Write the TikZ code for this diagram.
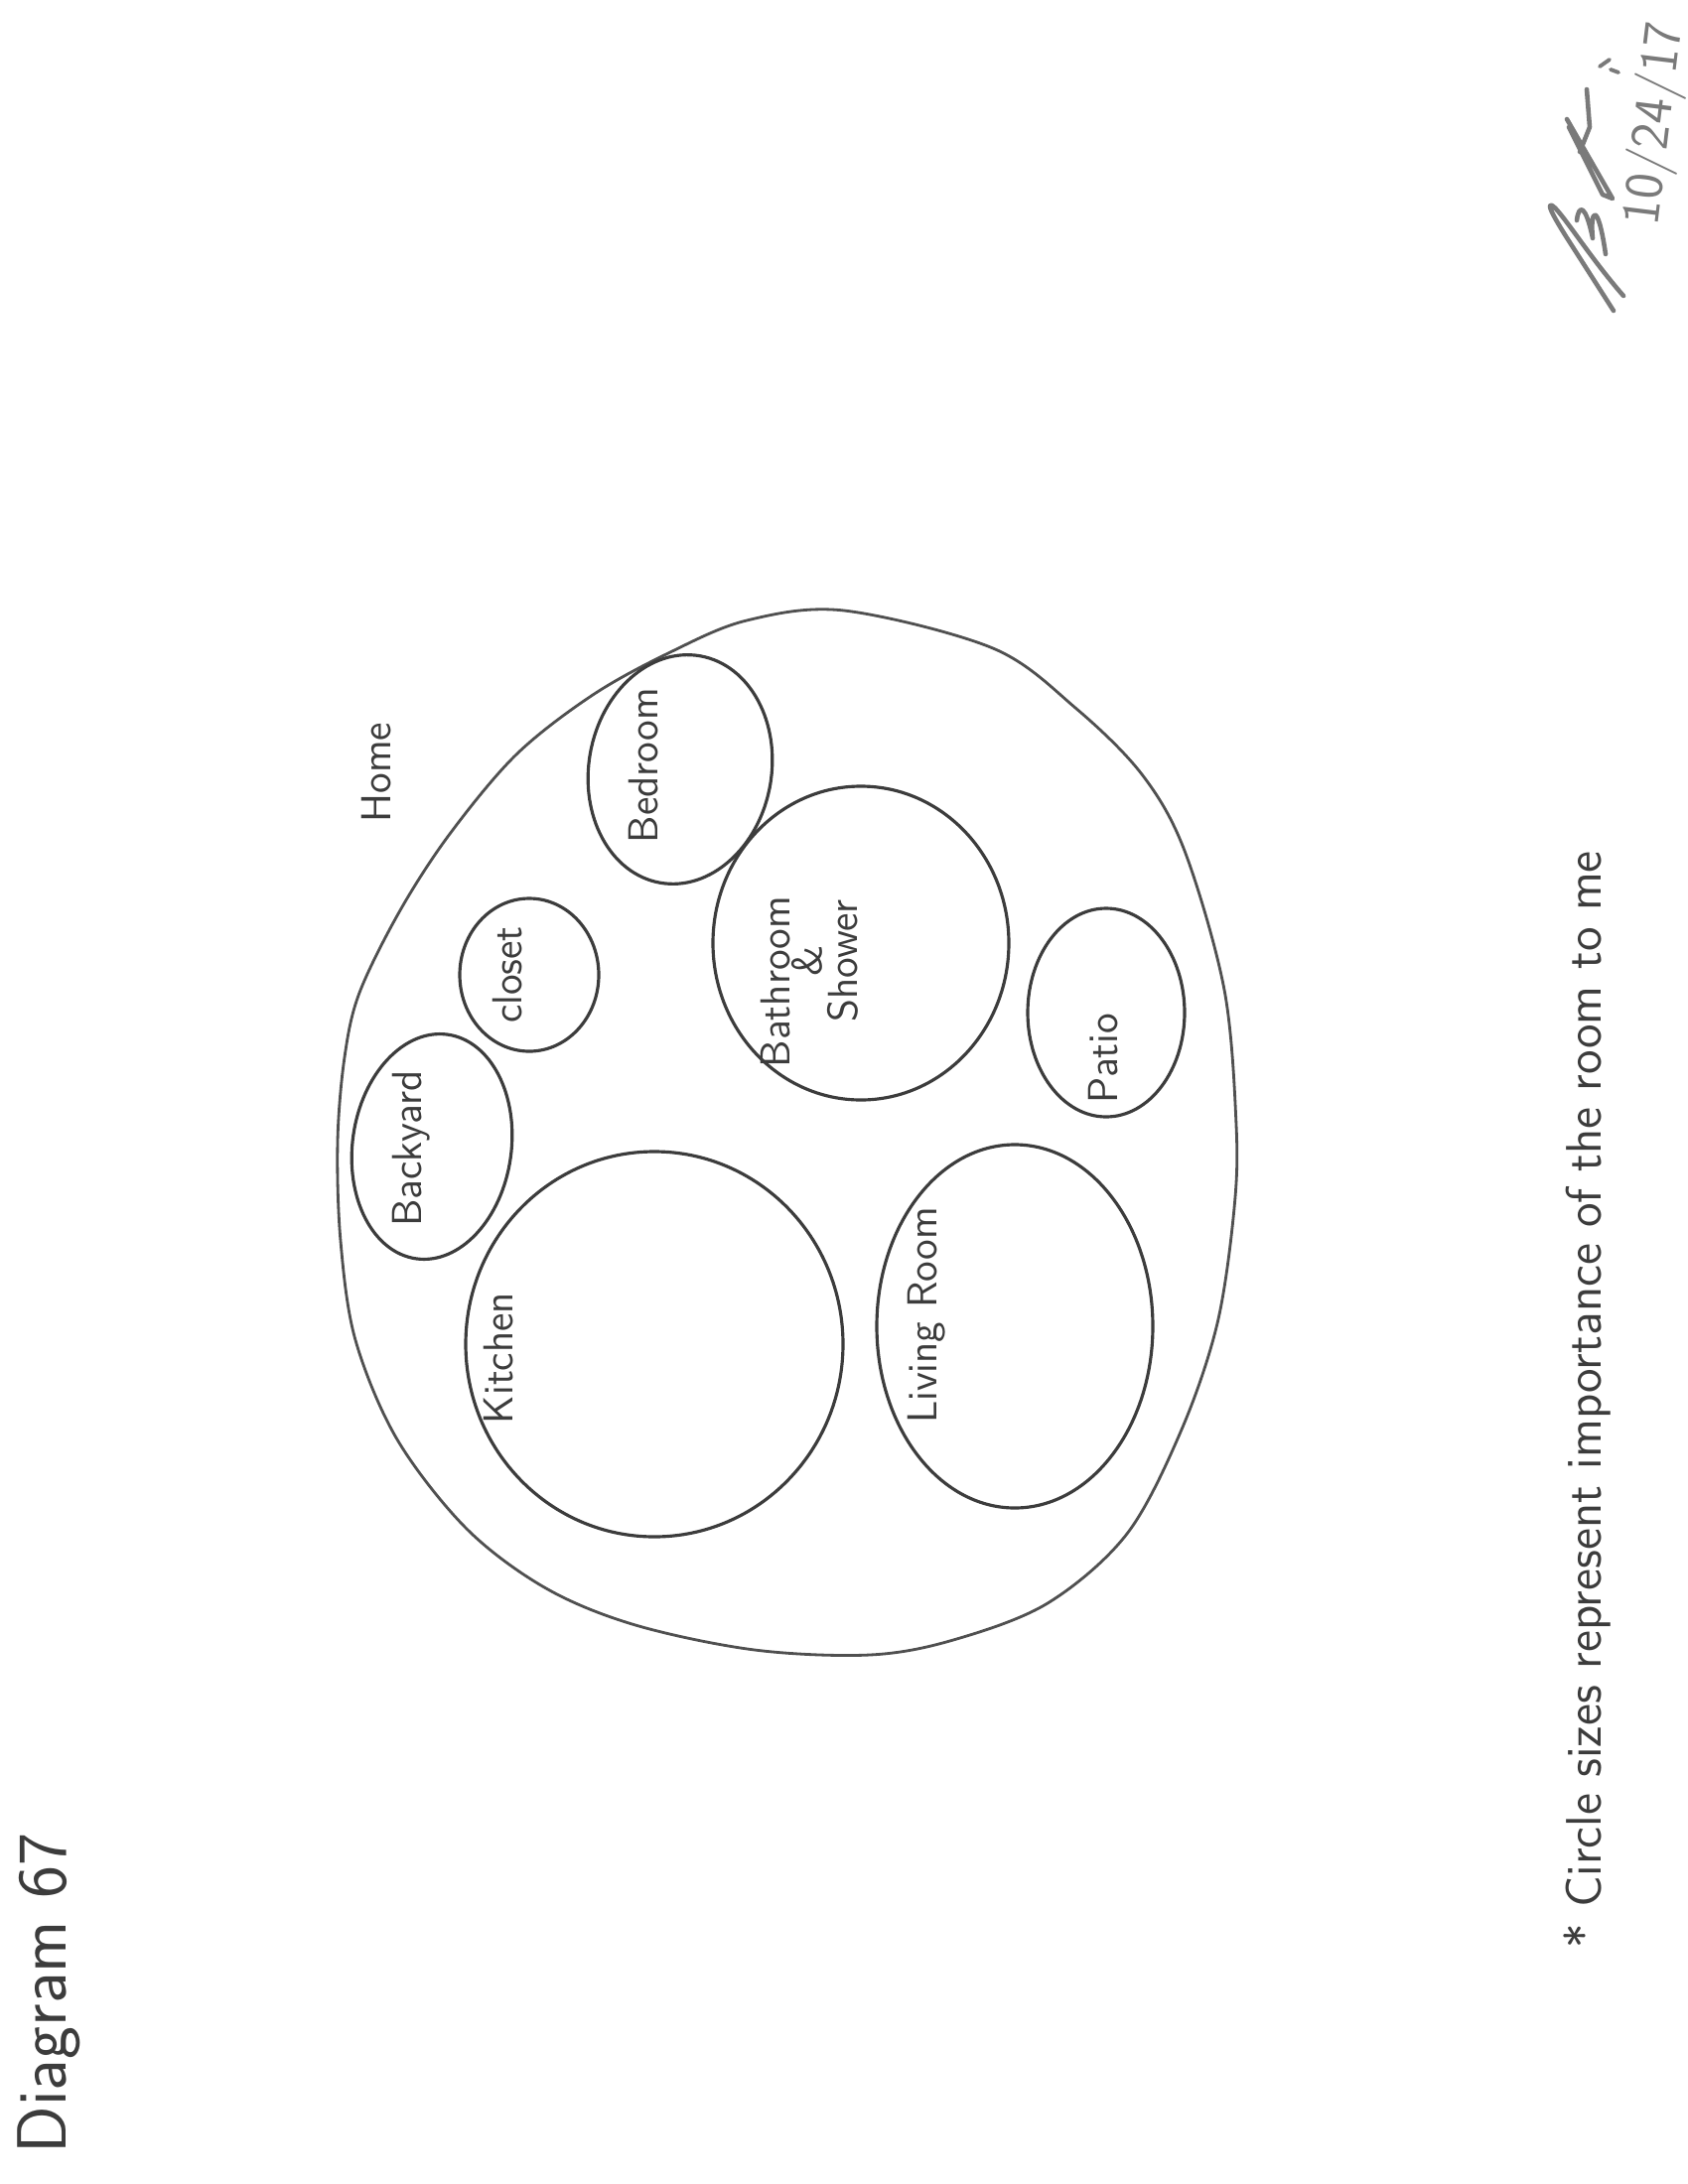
\documentclass[tikz,border=0pt]{standalone}
\definecolor{ink}{HTML}{3C3C3C}
\definecolor{pencil}{HTML}{505050}
\definecolor{sig}{HTML}{7A7A7A}
\begin{document}
\begin{tikzpicture}[x=0.1mm,y=-0.1mm,
  room/.style={draw=ink, line width=0.9pt},
  lbl/.style={text=ink, font=\sffamily\fontsize{12}{14}\selectfont, rotate=90, inner sep=0pt, align=center},
  sigline/.style={draw=sig, line width=1.3pt, line cap=round, line join=round}]
\useasboundingbox (0,0) rectangle (1700,2200);
% outer home blob
\draw[draw=pencil, line width=0.8pt] plot[smooth cycle, tension=0.55] coordinates {
 (340,1150) (347,1065) (362,1000) (403,917) (453,840) (520,760) (597,700)
 (675,657) (752,625) (850,615) (1000,653) (1083,713) (1150,780) (1193,857)
 (1233,997) (1245,1133) (1243,1217) (1226,1333) (1190,1440) (1135,1545)
 (1055,1615) (960,1652) (876,1667) (760,1662) (640,1637) (550,1600)
 (470,1540) (400,1450) (358,1350) (343,1250)};
% rooms
\draw[room] (659,1354) ellipse (190 and 194);
\draw[room] (1022,1336) ellipse (139 and 183);
\draw[room,rotate around={-8:(435,1155)}] (435,1155) ellipse (80 and 114);
\draw[room] (533,982) ellipse (70 and 77);
\draw[room,rotate around={-10:(685,775)}] (685,775) ellipse (92 and 116);
\draw[room] (867,950) ellipse (149 and 158);
\draw[room] (1114,1020) ellipse (79 and 105);
% labels
\node[lbl] (home) at (379,778) {Home};
\node[lbl] (bed) at (648,771) {Bedroom};
\node[lbl] (clo) at (511,982) {closet};
\node[lbl] (back) at (414,1157) {Backyard};
\node[lbl] (bath) at (781,989) {Bathroom};
\node[lbl] (amp) at (813,968) {\&};
\node[lbl] (show) at (849,968) {Shower};
\node[lbl] (pat) at (1111,1066) {Patio};
\node[lbl] (kit) at (502,1368) {Kitchen};
\node[lbl] (liv) at (933,1325) {Living Room};
\node[lbl, font=\sffamily\fontsize{20}{22}\selectfont] (title) at (49,2008) {Diagram 67};
\node[lbl, font=\sffamily\fontsize{14.3}{16}\selectfont] (note) at (1599,1410) {* Circle sizes represent importance of the room to me};
% signature and date
\node[text=sig, rotate=83, inner sep=0pt, font=\sffamily\fontsize{15.5}{17}\selectfont] (date) at (1668,125) {10/24/17};
\draw[sigline] (1625,313) -- (1577,238) .. controls (1562,214) and (1558,205) .. (1563,207)
  .. controls (1572,212) and (1600,258) .. (1635,298);
\draw[sigline] (1578,120) -- (1624,200) -- (1614,196) -- (1580,128);
\draw[sigline] (1598,90) -- (1601,128) -- (1591,153);
\draw[sigline] (1588,222) .. controls (1590,205) and (1597,206) .. (1604,240)
  .. controls (1601,212) and (1609,200) .. (1617,256);
\draw[sig, line width=1.1pt, line cap=round] (1611,67) -- (1621,60) (1622,70) -- (1630,73);
\end{tikzpicture}
\end{document}
